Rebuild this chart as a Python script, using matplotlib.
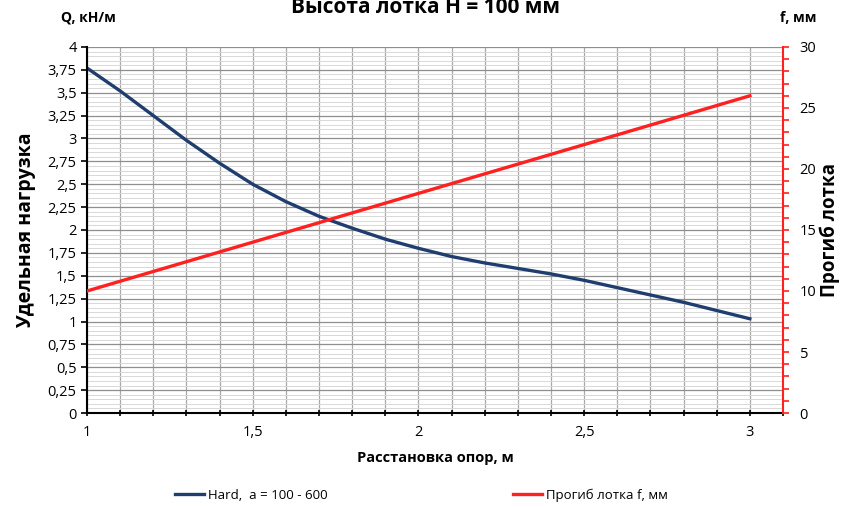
import numpy as np
import matplotlib.pyplot as plt
from matplotlib.ticker import MultipleLocator, FuncFormatter

# data
spans = [1.0, 1.1, 1.2, 1.3, 1.4, 1.5, 1.6, 1.7, 1.8, 1.9, 2.0, 2.1, 2.2, 2.3, 2.4, 2.5, 2.6, 2.7, 2.8, 2.9, 3.0]
load_q = [3.77, 3.52, 3.25, 2.98, 2.73, 2.50, 2.31, 2.15, 2.02, 1.90, 1.80, 1.71, 1.64, 1.58, 1.52, 1.45, 1.37, 1.29, 1.21, 1.12, 1.03]
deflect_x = [1.0, 1.5, 2.0, 2.5, 3.0]
deflect_f = [10.0, 14.0, 18.0, 22.0, 26.0]

title = "Высота лотка H = 100 мм"
fam = ['Open Sans', 'DejaVu Sans']
plt.rcParams['font.family'] = fam

fig = plt.figure(figsize=(8.43, 5.08), dpi=100)
ax = fig.add_axes([0.1032, 0.187, 0.8256, 0.7205])
ax2 = ax.twinx()

comma = FuncFormatter(lambda v, p: ('%g' % v).replace('.', ','))

ax.plot(spans, load_q, color='#1f3d6e', lw=2.4, label='Hard,  a = 100 - 600',
        solid_joinstyle='round')
ax2.plot(deflect_x, deflect_f, color='#ff2020', lw=2.4, label='Прогиб лотка f, мм')

ax.set_xlim(1, 3.1)
ax.set_ylim(0, 4)
ax2.set_ylim(0, 30)

ax.xaxis.set_major_locator(MultipleLocator(0.5))
ax.xaxis.set_minor_locator(MultipleLocator(0.1))
ax.yaxis.set_major_locator(MultipleLocator(0.25))
ax.yaxis.set_minor_locator(MultipleLocator(0.05))
ax.xaxis.set_major_formatter(comma)
ax.yaxis.set_major_formatter(comma)
ax2.yaxis.set_major_locator(MultipleLocator(5))
ax2.yaxis.set_minor_locator(MultipleLocator(1))

ax.grid(True, which='minor', axis='y', color='#d8d8d8', lw=0.7)
ax.grid(True, which='major', axis='y', color='#8f8f8f', lw=0.9)
ax.grid(True, which='both', axis='x', color='#a8a8a8', lw=0.9)
ax.set_axisbelow(True)

ax.spines['top'].set_visible(False)
ax2.spines['top'].set_visible(False)
ax.spines['right'].set_visible(False)
ax2.spines['left'].set_visible(False)
ax2.spines['bottom'].set_visible(False)
ax2.spines['right'].set_color('#ff2020')
ax2.spines['right'].set_linewidth(1.5)
ax.spines['left'].set_linewidth(1.5)
ax.spines['bottom'].set_linewidth(1.5)

ax.tick_params(axis='x', which='both', direction='inout', length=5, width=1.2, labelsize=10.5, pad=6)
ax.tick_params(axis='y', which='major', direction='out', length=4, width=1.2, labelsize=10.5)
ax.tick_params(axis='y', which='minor', length=0)
ax2.tick_params(axis='y', which='both', direction='out', length=4, width=1.2, color='#ff2020', labelsize=10.5, pad=8)

ax.set_xlabel('Расстановка опор, м', fontsize=10.5, fontweight='bold', labelpad=8)
ax.set_ylabel('Удельная нагрузка', fontsize=14, fontweight='bold', labelpad=8)
ax2.set_ylabel('Прогиб лотка', fontsize=13.5, fontweight='bold', labelpad=2)

fig.text(0.505, 0.985, title, ha='center', va='center', fontsize=15, fontweight='bold')
fig.text(0.072, 0.965, 'Q, кН/м', ha='left', va='center', fontsize=10, fontweight='bold')
fig.text(0.925, 0.965, 'f, мм', ha='left', va='center', fontsize=10, fontweight='bold')

h1, l1 = ax.get_legend_handles_labels()
h2, l2 = ax2.get_legend_handles_labels()
fig.legend(h1 + h2, l1 + l2, loc='center', bbox_to_anchor=(0.5, 0.025), ncol=2,
           frameon=False, fontsize=9.5, columnspacing=14, handlelength=2.2, handletextpad=0.3)

fig.savefig('out.png', dpi=100)
